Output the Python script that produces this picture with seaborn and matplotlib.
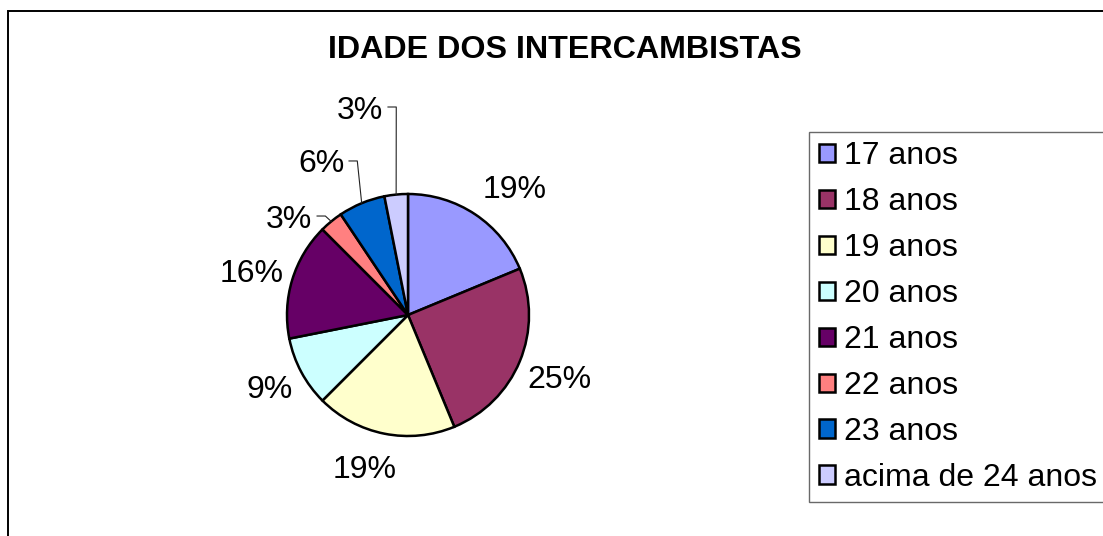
import matplotlib
matplotlib.use("Agg")
import matplotlib.pyplot as plt
from matplotlib.patches import Rectangle
import numpy as np
import seaborn as sns

# dados (contagem de intercambistas por idade)
faixas = ["17 anos", "18 anos", "19 anos", "20 anos", "21 anos",
          "22 anos", "23 anos", "acima de 24 anos"]
contagem = [6, 8, 6, 3, 5, 1, 2, 1]
cores = ["#9999FF", "#993366", "#FFFFCC", "#CCFFFF", "#660066",
         "#FF8080", "#0066CC", "#CCCCFF"]
titulo = "IDADE DOS INTERCAMBISTAS"

# posicao dos rotulos (centro, em raios do grafico) e quais tem linha guia
pos_rotulos = [(0.884, 1.058), (1.248, -0.512), (-0.355, -1.248), (-1.140, -0.587),
               (-1.289, 0.364), (-0.983, 0.818), (-0.719, 1.273), (-0.397, 1.719)]
com_guia = [False, False, False, False, False, True, True, True]

sns.set_theme(style="white")
plt.rcParams["font.family"] = ["Liberation Sans", "DejaVu Sans"]

W, H = 1103, 536
fig = plt.figure(figsize=(W / 100, H / 100), dpi=100)
fig.patch.set_facecolor("white")

# pizza: centro (408, 315) px, raio 121 px
cx, cy, r = 408, 315, 121
ax = fig.add_axes([(cx - r) / W, (H - cy - r) / H, 2 * r / W, 2 * r / H])
paleta = sns.color_palette(cores)
wedges, _ = ax.pie(contagem, colors=paleta, startangle=90, counterclock=False,
                   wedgeprops=dict(edgecolor="black", linewidth=1.8))
ax.set_xlim(-1, 1)
ax.set_ylim(-1, 1)
ax.axis("off")

total = sum(contagem)
for w, n, (lx, ly), guia in zip(wedges, contagem, pos_rotulos, com_guia):
    pct = f"{round(100 * n / total):.0f}%"
    ax.text(lx, ly, pct, ha="center", va="center_baseline", fontsize=23,
            color="black", clip_on=False)
    if guia:
        ang = np.deg2rad((w.theta1 + w.theta2) / 2)
        xs = [lx + 0.23, lx + 0.30, np.cos(ang)]
        ys = [ly, ly, np.sin(ang)]
        ax.plot(xs, ys, color="#222222", lw=0.8, clip_on=False)

# titulo
fig.text(565 / W, 1 - 58.5 / H, titulo, ha="center", va="baseline",
         fontsize=23.2, fontweight="bold", color="black")

# legenda
leg = fig.legend(wedges, faixas, loc="upper left",
                 bbox_to_anchor=(809 / W, 1 - 131.5 / H), bbox_transform=fig.transFigure,
                 fontsize=23, frameon=True, fancybox=False, shadow=False,
                 borderaxespad=0, borderpad=0.3, handlelength=0.5, handleheight=0.5,
                 handletextpad=0.3, labelspacing=0.5)
leg.get_frame().set_edgecolor("#444444")
leg.get_frame().set_linewidth(1.0)
for t in leg.get_texts():
    t.set_color("black")

# moldura externa (corte a direita e embaixo)
fig.add_artist(Rectangle((8 / W, -0.1), 1.2, 1 - 11 / H + 0.1, transform=fig.transFigure,
                         fill=False, edgecolor="black", linewidth=1.4))

fig.savefig("out.png", dpi=100)
